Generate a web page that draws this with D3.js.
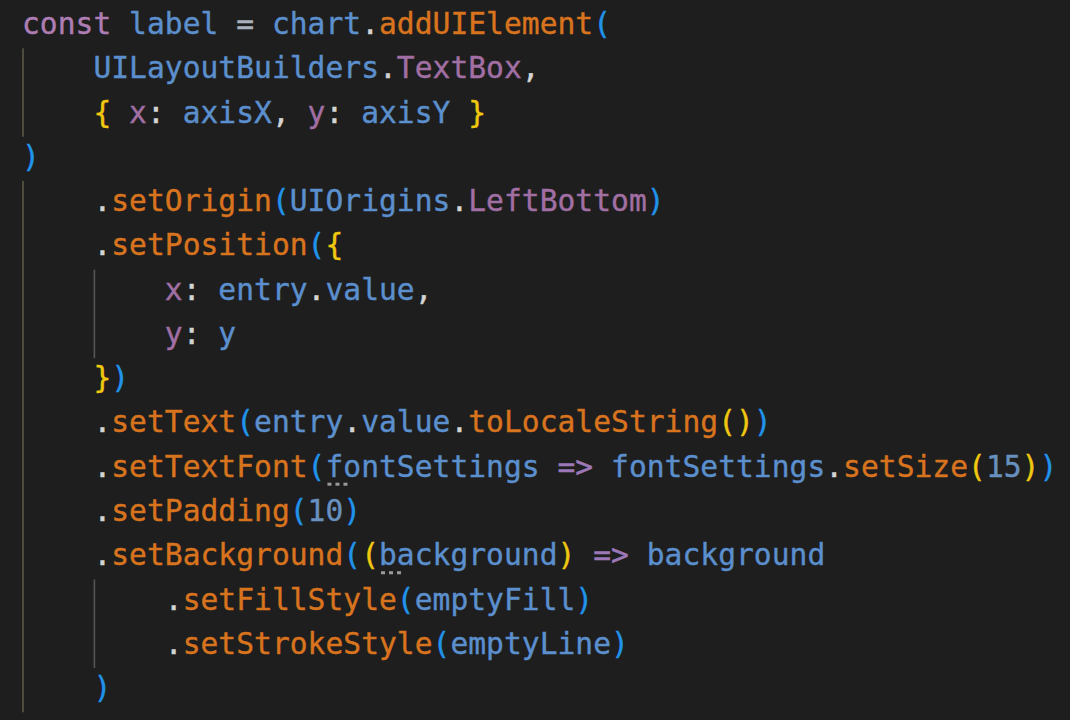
<!DOCTYPE html>
<html>
<head>
<meta charset="utf-8">
<script src="https://cdn.jsdelivr.net/npm/d3@7"></script>
<style>
  html, body { margin: 0; padding: 0; background: #1e1e1e; }
  #code { width: 1070px; height: 720px; }
  text { white-space: pre; }
</style>
</head>
<body>
<div id="code"></div>
<script>
// Code listing, one array of [text, kind] tokens per line

const line01 = [["const", "kw"], [" ", "p"], ["label", "id"], [" = ", "op"], ["chart", "id"], [".", "p"], ["addUIElement", "fn"], ["(", "b1"]];
const line02 = [["    ", "p"], ["UILayoutBuilders", "id"], [".", "p"], ["TextBox", "prop"], [",", "p"]];
const line03 = [["    ", "p"], ["{", "b2"], [" ", "p"], ["x", "prop"], [": ", "p"], ["axisX", "id"], [", ", "p"], ["y", "prop"], [": ", "p"], ["axisY", "id"], [" ", "p"], ["}", "b2"]];
const line04 = [[")", "b1"]];
const line05 = [["    ", "p"], [".", "p"], ["setOrigin", "fn"], ["(", "b1"], ["UIOrigins", "id"], [".", "p"], ["LeftBottom", "prop"], [")", "b1"]];
const line06 = [["    ", "p"], [".", "p"], ["setPosition", "fn"], ["(", "b1"], ["{", "b2"]];
const line07 = [["        ", "p"], ["x", "prop"], [": ", "p"], ["entry", "id"], [".", "p"], ["value", "id"], [",", "p"]];
const line08 = [["        ", "p"], ["y", "prop"], [": ", "p"], ["y", "id"]];
const line09 = [["    ", "p"], ["}", "b2"], [")", "b1"]];
const line10 = [["    ", "p"], [".", "p"], ["setText", "fn"], ["(", "b1"], ["entry", "id"], [".", "p"], ["value", "id"], [".", "p"], ["toLocaleString", "fn"], ["()", "b2"], [")", "b1"]];
const line11 = [["    ", "p"], [".", "p"], ["setTextFont", "fn"], ["(", "b1"], ["fontSettings", "id"], [" ", "p"], ["=>", "arrow"], [" ", "p"], ["fontSettings", "id"], [".", "p"], ["setSize", "fn"], ["(", "b2"], ["15", "num"], [")", "b2"], [")", "b1"]];
const line12 = [["    ", "p"], [".", "p"], ["setPadding", "fn"], ["(", "b1"], ["10", "num"], [")", "b1"]];
const line13 = [["    ", "p"], [".", "p"], ["setBackground", "fn"], ["(", "b1"], ["(", "b2"], ["background", "id"], [")", "b2"], [" ", "p"], ["=>", "arrow"], [" ", "p"], ["background", "id"]];
const line14 = [["        ", "p"], [".", "p"], ["setFillStyle", "fn"], ["(", "b1"], ["emptyFill", "id"], [")", "b1"]];
const line15 = [["        ", "p"], [".", "p"], ["setStrokeStyle", "fn"], ["(", "b1"], ["emptyLine", "id"], [")", "b1"]];
const line16 = [["    ", "p"], [")", "b1"]];

const codeLines = [line01, line02, line03, line04, line05, line06, line07, line08,
                   line09, line10, line11, line12, line13, line14, line15, line16];

// indent guides: [column, first row, last row]
const indentGuides = [[0, 1, 2], [0, 4, 15], [4, 6, 7], [4, 13, 14]];

// inline hint dots: [row, column]
const hintMarks = [[10, 17], [12, 20]];

const tokenColors = {
  kw: "#ad7db4",
  id: "#5b8fcd",
  fn: "#d8731e",
  prop: "#a16fa3",
  p: "#d4d4d4",
  op: "#aab0bc",
  arrow: "#9d78b8",
  num: "#6890bf",
  b1: "#2193ea",
  b2: "#f0c810"
};


// Layout

const width = 1070;
const height = 720;
const charW = 17.85;
const lineH = 44.27;
const fontSize = 29.6;

const svg = d3.select("#code")
  .append("svg")
  .attr("width", width)
  .attr("height", height)
  .attr("viewBox", `0 0 ${width} ${height}`);

svg.append("rect")
  .attr("width", width)
  .attr("height", height)
  .attr("fill", "#1e1e1e");

const xScale = d3.scaleLinear()
  .domain([0, 1])
  .range([22, 22 + charW]);

// baseline of each row
const yScale = d3.scaleLinear()
  .domain([0, 1])
  .range([34, 34 + lineH]);

// row box top = baseline - 30


// Indent guides

svg.selectAll(".guide")
  .data(indentGuides)
  .enter()
  .append("line")
  .attr("class", "guide")
  .attr("x1", d => xScale(d[0]) + 1)
  .attr("x2", d => xScale(d[0]) + 1)
  .attr("y1", d => yScale(d[1]) - 30)
  .attr("y2", d => Math.min(height, yScale(d[2]) - 30 + lineH))
  .attr("stroke", d => d[0] === 0 ? "#5a5844" : "#555555")
  .attr("stroke-width", 1.6);


// Tokens with column positions

const tokens = [];
codeLines.forEach((line, row) => {
  let col = 0;
  line.forEach(([text, kind]) => {
    if (text.trim().length) tokens.push({ row, col, text, kind });
    col += text.length;
  });
});

svg.selectAll(".tok")
  .data(tokens)
  .enter()
  .append("text")
  .attr("class", "tok")
  .attr("x", d => xScale(d.col))
  .attr("y", d => yScale(d.row))
  .attr("textLength", d => d.text.length * charW)
  .attr("lengthAdjust", "spacing")
  .attr("font-family", "'DejaVu Sans Mono', 'Liberation Mono', monospace")
  .attr("font-size", fontSize)
  .attr("fill", d => tokenColors[d.kind])
  .attr("stroke", d => tokenColors[d.kind])
  .attr("stroke-width", 0.4)
  .text(d => d.text);


// Hint dots under first letters

hintMarks.forEach(([row, col]) => {
  svg.selectAll(null)
    .data([0, 1, 2])
    .enter()
    .append("rect")
    .attr("x", i => xScale(col) + 2 + i * 8)
    .attr("y", yScale(row) + 6)
    .attr("width", 4)
    .attr("height", 3)
    .attr("fill", "#9a9a9a");
});
</script>
</body>
</html>
